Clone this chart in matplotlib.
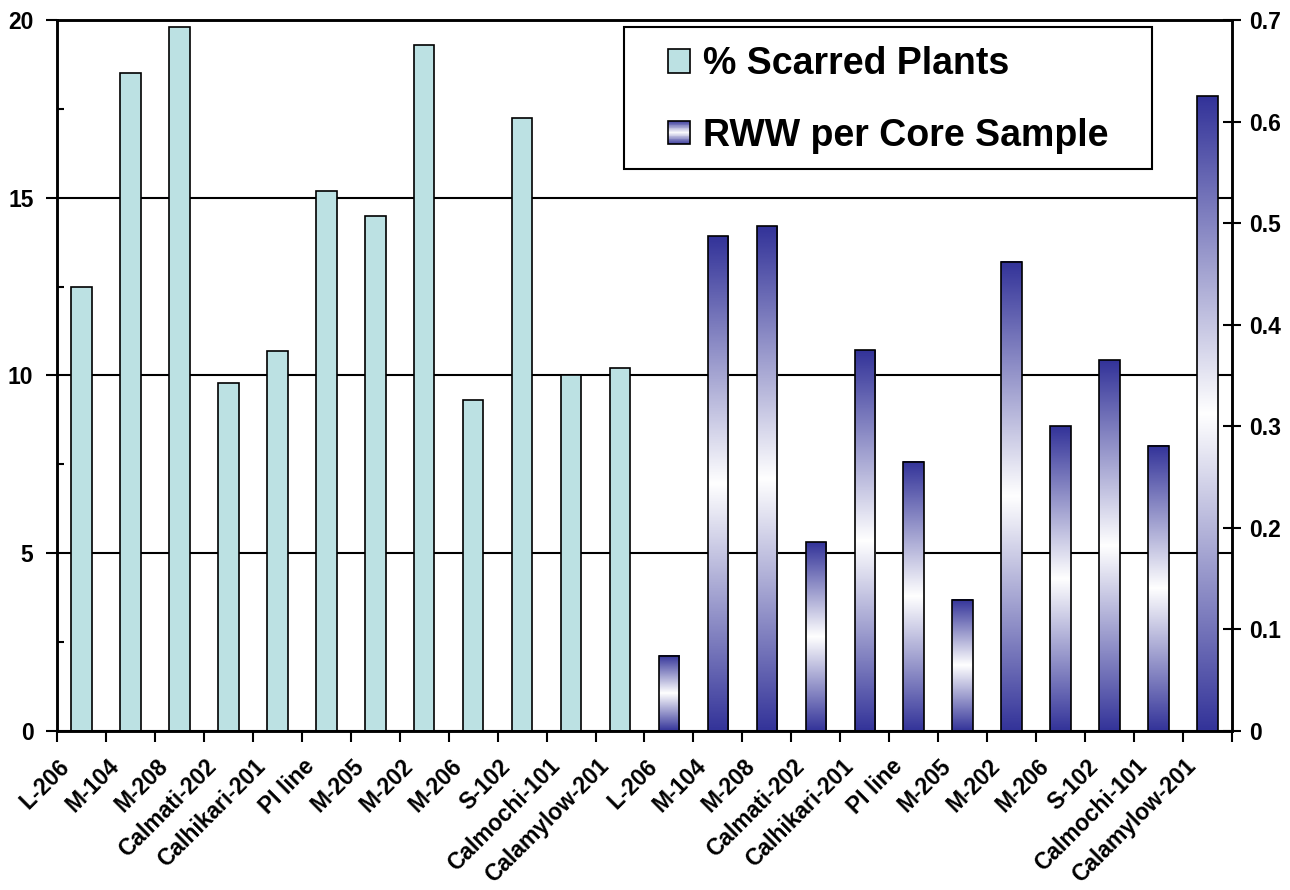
import matplotlib.pyplot as plt
import numpy as np
from matplotlib.colors import LinearSegmentedColormap
from matplotlib.patches import Rectangle, Patch
from matplotlib.legend_handler import HandlerBase
from matplotlib.ticker import MultipleLocator
from matplotlib.transforms import ScaledTranslation

varieties = ['L-206', 'M-104', 'M-208', 'Calmati-202', 'Calhikari-201', 'PI line',
             'M-205', 'M-202', 'M-206', 'S-102', 'Calmochi-101', 'Calamylow-201']
scarred = [12.5, 18.5, 19.8, 9.8, 10.7, 15.2, 14.5, 19.3, 9.3, 17.25, 10.0, 10.2]
rww = [0.074, 0.487, 0.497, 0.186, 0.375, 0.265, 0.129, 0.462, 0.300, 0.365, 0.281, 0.625]

labels = varieties + varieties
n = len(varieties)
x = np.arange(len(labels))

plt.rcParams['font.family'] = ['Liberation Sans', 'DejaVu Sans']
plt.rcParams['font.weight'] = 'bold'

cmap = LinearSegmentedColormap.from_list('rww', ['#333399', '#ffffff', '#333399'])


class GradientHandler(HandlerBase):
    # legend square filled with the same vertical gradient as the bars
    def create_artists(self, legend, orig_handle, xdescent, ydescent, width, height, fontsize, trans):
        arts = []
        k = 30
        for i in range(k):
            r = Rectangle((-xdescent, -ydescent + i * height / k), width, height / k,
                          facecolor=cmap((i + 0.5) / k), edgecolor='none', transform=trans)
            arts.append(r)
        arts.append(Rectangle((-xdescent, -ydescent), width, height, facecolor='none',
                              edgecolor='black', linewidth=1.2, transform=trans))
        return arts


fig = plt.figure(figsize=(12.9, 8.9), dpi=100)
ax = fig.add_axes([57 / 1290, 1 - 731 / 890, 1175 / 1290, 711 / 890])
ax2 = ax.twinx()

ax.bar(x[:n], scarred, width=0.42, color='#bce1e3', edgecolor='black', linewidth=1.2, zorder=2)
bars = ax2.bar(x[n:], rww, width=0.42, facecolor='none', edgecolor='black', linewidth=1.2, zorder=3)
grad = np.linspace(0, 1, 256).reshape(-1, 1)
for b in bars:
    x0, w, h = b.get_x(), b.get_width(), b.get_height()
    ax2.imshow(grad, cmap=cmap, extent=[x0, x0 + w, 0, h], aspect='auto', origin='lower', zorder=2)

ax.set_xlim(-0.5, len(labels) - 0.5)
ax.set_ylim(0, 20)
ax2.set_ylim(0, 0.7)

ax.yaxis.grid(True, color='black', linewidth=1.5)
ax.set_axisbelow(True)

ax.set_yticks([0, 5, 10, 15, 20])
ax.yaxis.set_minor_locator(MultipleLocator(2.5))
ax.tick_params(axis='y', which='major', direction='out', length=8, width=1.5, labelsize=16.5, pad=9)
ax.tick_params(axis='y', which='minor', direction='in', length=5, width=1.5)

ax2.set_yticks(np.arange(0, 0.71, 0.1))
ax2.set_yticklabels(['0', '0.1', '0.2', '0.3', '0.4', '0.5', '0.6', '0.7'])
ax2.tick_params(axis='y', direction='inout', length=13, width=1.5, labelsize=16.5, pad=6)

ax.set_xticks(x)
ax.set_xticklabels(labels, rotation=45, ha='right', va='center', rotation_mode='anchor', fontsize=16.5)
ax.set_xticks(np.arange(-0.5, len(labels), 1), minor=True)
ax.tick_params(axis='x', which='major', length=0, pad=23)
ax.tick_params(axis='x', which='minor', direction='out', length=8, width=1.5)
shift = ScaledTranslation(-15 / 100, 0, fig.dpi_scale_trans)
for lbl in ax.get_xticklabels():
    lbl.set_transform(lbl.get_transform() + shift)

for a in (ax, ax2):
    for s in a.spines.values():
        s.set_linewidth(1.8)
        s.set_color('black')

# legend frame drawn separately so the left padding can be wider than the top
frame = Rectangle((624 / 1290, 1 - 169 / 890), 528 / 1290, 142 / 890, transform=fig.transFigure,
                  facecolor='white', edgecolor='black', linewidth=1.5, zorder=9)
ax2.add_artist(frame)

handles = [Patch(facecolor='#bce1e3', edgecolor='black', linewidth=1.2), Patch()]
leg = ax2.legend(handles, ['% Scarred Plants', 'RWW per Core Sample'],
                 handler_map={handles[1]: GradientHandler()},
                 loc='center left', bbox_to_anchor=(668 / 1290, 1 - 100 / 890),
                 bbox_transform=fig.transFigure, borderaxespad=0, borderpad=0,
                 fontsize=27, handlelength=0.59, handleheight=0.59, handletextpad=0.35,
                 labelspacing=0.94, frameon=False)
leg.set_zorder(10)

fig.savefig('out.png', dpi=100)
